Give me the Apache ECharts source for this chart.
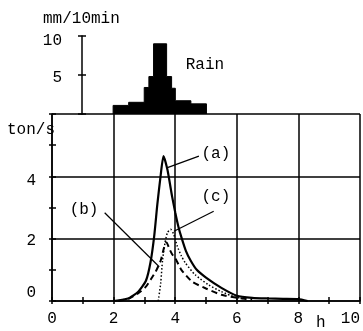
<!DOCTYPE html>
<html><head><meta charset="utf-8">
<script src="https://cdn.jsdelivr.net/npm/echarts@6/dist/echarts.min.js"></script>
<style>html,body{margin:0;padding:0;background:#fff}#c{width:363px;height:331px}</style>
</head><body><div id="c"></div>
<script>
// Rain (mm/10min), step boundaries in hours
const rainT = [2.0, 2.0, 2.5, 3.0, 3.15, 3.3, 3.72, 3.88, 4.0, 4.5, 5.0];
const rainV = [0, 1.1, 1.5, 3.4, 4.8, 9.0, 4.8, 3.3, 1.7, 1.3, 0];
// Discharge (ton/s)
const hoursA = [2.0, 2.5, 2.8, 3.05, 3.2, 3.32, 3.42, 3.53, 3.62, 3.75, 3.9, 4.0, 4.1, 4.2, 4.35, 4.5, 4.7, 5.0, 5.5, 6.0, 6.5, 7.0, 7.5, 8.0, 8.3];
const flowA  = [0, 0.09, 0.3, 0.65, 1.25, 2.1, 3.1, 4.05, 4.65, 4.2, 3.35, 2.85, 2.4, 2.05, 1.6, 1.3, 1.0, 0.75, 0.42, 0.17, 0.1, 0.08, 0.07, 0.06, 0];
const hoursB = [2.15, 2.5, 2.8, 3.05, 3.2, 3.37, 3.53, 3.64, 3.72, 3.8, 3.9, 4.0, 4.2, 4.55, 5.0, 5.5, 6.0, 6.5];
const flowB  = [0, 0.08, 0.25, 0.46, 0.68, 0.95, 1.3, 1.72, 1.88, 1.7, 1.5, 1.38, 1.0, 0.62, 0.4, 0.2, 0.1, 0.05];
const hoursC = [3.45, 3.53, 3.59, 3.67, 3.75, 3.85, 3.95, 4.07, 4.2, 4.33, 4.65, 5.08, 5.5, 5.94, 6.3];
const flowC  = [0, 0.58, 1.32, 1.87, 2.2, 2.3, 2.15, 1.75, 1.45, 1.22, 0.84, 0.52, 0.3, 0.13, 0.06];
const xLabels = [0, 2, 4, 6, 8, 10];
const yLabels = [0, 2, 4];
const rainLabels = [5, 10];
// annotation labels and leader lines [textPos, lineFrom, lineTo]
const annoNames = ['(a)', '(b)', '(c)'];
const annoText = [[5.32, 4.71], [1.04, 2.94], [5.32, 3.35]];
const annoFrom = [[4.77, 4.65], [1.71, 2.83], [5.25, 2.88]];
const annoTo   = [[3.75, 4.28], [3.48, 1.1], [3.96, 2.24]];

const FONT = 'Liberation Mono';
const pair = (xs, ys) => xs.map((x, i) => [x, ys[i]]);
const blk = '#000';
const txt = {color: blk, fontFamily: FONT, fontSize: 16};
const st = pad => ({fontFamily: FONT, fontSize: 16, color: blk, padding: pad});
const yRich = {z: st([0, 0, 16, 0]), t: st([4, 0, 0, 0]), f: st([8, 0, 0, 0])};
const yKey = {0: 'z', 2: 't', 4: 'f'};
const rRich = {p: st([6, 0, 0, 0]), q: st([10, 0, 0, 0])};
const rKey = {5: 'p', 10: 'q'};

const chart = echarts.init(document.getElementById('c'), null, {renderer: 'canvas'});
chart.setOption({
  animation: false,
  backgroundColor: '#fff',
  grid: [
    {left: 52, top: 114, width: 310, height: 187},
    {left: 82, top: 36, width: 280, height: 78}
  ],
  xAxis: [
    {gridIndex: 0, type: 'value', position: 'bottom', min: 0, max: 10, interval: 2,
     axisLine: {show: true, lineStyle: {color: blk, width: 1.5}},
     axisTick: {show: false},
     axisLabel: Object.assign({margin: 10, showMaxLabel: true, alignMaxLabel: 'right',
       formatter: v => xLabels.includes(v) ? String(v) : ''}, txt),
     splitLine: {show: true, lineStyle: {color: blk, width: 1.5}}},
    {gridIndex: 0, type: 'value', position: 'bottom', min: 0, max: 10, interval: 1,
     axisLine: {show: false}, axisLabel: {show: false}, splitLine: {show: false},
     axisTick: {show: true, inside: false, length: 3, lineStyle: {color: blk, width: 1.5}}},
    {gridIndex: 0, type: 'value', position: 'bottom', min: 0, max: 10, interval: 1,
     axisLine: {show: false}, axisLabel: {show: false}, splitLine: {show: false},
     axisTick: {show: true, inside: true, length: 4, lineStyle: {color: blk, width: 1.5}}},
    {gridIndex: 1, type: 'value', min: 1, max: 10, show: false}
  ],
  yAxis: [
    {gridIndex: 0, type: 'value', position: 'left', min: 0, max: 6, interval: 2,
     axisLine: {show: true, lineStyle: {color: blk, width: 1.5}},
     axisTick: {show: false},
     axisLabel: Object.assign({margin: 16, rich: yRich,
       formatter: v => yLabels.includes(v) ? '{' + yKey[v] + '|' + v + '}' : ''}, txt),
     splitLine: {show: true, lineStyle: {color: blk, width: 1.5}}},
    {gridIndex: 0, type: 'value', position: 'left', min: 0, max: 6, interval: 1,
     axisLine: {show: false}, axisLabel: {show: false}, splitLine: {show: false},
     axisTick: {show: true, inside: false, length: 3, lineStyle: {color: blk, width: 1.5}}},
    {gridIndex: 0, type: 'value', position: 'left', min: 0, max: 6, interval: 1,
     axisLine: {show: false}, axisLabel: {show: false}, splitLine: {show: false},
     axisTick: {show: true, inside: true, length: 4, lineStyle: {color: blk, width: 1.5}}},
    {gridIndex: 1, type: 'value', position: 'left', min: 0, max: 10, interval: 5,
     axisLine: {show: true, lineStyle: {color: blk, width: 1.5}},
     axisTick: {show: true, inside: false, length: 4, lineStyle: {color: blk, width: 1.5}},
     axisLabel: Object.assign({margin: 20, rich: rRich,
       formatter: v => rainLabels.includes(v) ? '{' + rKey[v] + '|' + v + '}' : ''}, txt),
     splitLine: {show: false}},
    {gridIndex: 1, type: 'value', position: 'left', min: 0, max: 10, interval: 5,
     axisLine: {show: false}, axisLabel: {show: false}, splitLine: {show: false},
     axisTick: {show: true, inside: true, length: 4, lineStyle: {color: blk, width: 1.5}}}
  ],
  graphic: [
    {type: 'text', left: 43, top: 11, style: {text: 'mm/10min', fill: blk, font: '16px ' + FONT}},
    {type: 'text', left: 7, top: 122, style: {text: 'ton/s', fill: blk, font: '16px ' + FONT}},
    {type: 'text', left: 316, top: 315, style: {text: 'h', fill: blk, font: '16px ' + FONT}}
  ],
  series: [
    {name: 'Rain', type: 'line', xAxisIndex: 3, yAxisIndex: 3, step: 'end', symbol: 'none',
     data: pair(rainT, rainV), lineStyle: {color: blk, width: 1}, areaStyle: {color: blk, opacity: 1},
     markPoint: {symbol: 'circle', symbolSize: 1, itemStyle: {color: 'rgba(0,0,0,0)'},
       label: Object.assign({show: true, position: 'inside', formatter: '{b}'}, txt),
       data: [{name: 'Rain', coord: [4.95, 6.35]}]}},
    {name: '(a)', type: 'line', xAxisIndex: 0, yAxisIndex: 0, symbol: 'none', smooth: 0.2,
     data: pair(hoursA, flowA), lineStyle: {color: blk, width: 2.2},
     markLine: {symbol: 'none', silent: true, label: {show: false},
       lineStyle: {color: blk, width: 1.2, type: 'solid'},
       data: annoFrom.map((f, i) => [{coord: f}, {coord: annoTo[i]}])},
     markPoint: {symbol: 'circle', symbolSize: 1, itemStyle: {color: 'rgba(0,0,0,0)'},
       label: Object.assign({show: true, position: 'inside', formatter: '{b}'}, txt),
       data: annoNames.map((n, i) => ({name: n, coord: annoText[i]}))}},
    {name: '(b)', type: 'line', xAxisIndex: 0, yAxisIndex: 0, symbol: 'none', smooth: 0.2,
     data: pair(hoursB, flowB), lineStyle: {color: blk, width: 2, type: [6, 4]}},
    {name: '(c)', type: 'line', xAxisIndex: 0, yAxisIndex: 0, symbol: 'none', smooth: 0.2,
     data: pair(hoursC, flowC), lineStyle: {color: blk, width: 1.5, type: [1.5, 2]}}
  ]
});
</script></body></html>
